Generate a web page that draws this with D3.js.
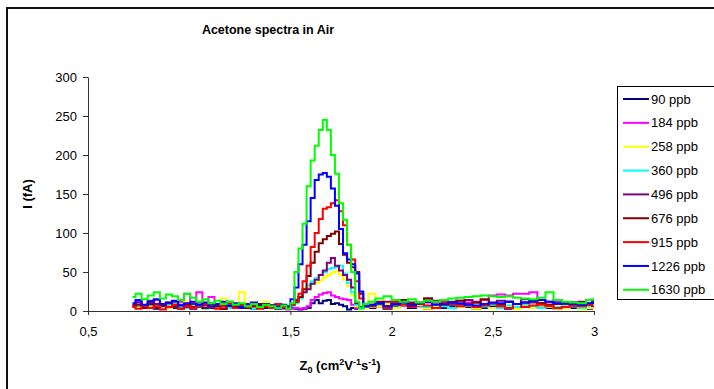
<!DOCTYPE html>
<html lang="en">
    <head>
        <meta charset="utf-8">
        <title>Acetone spectra in Air</title>
        <script type="text/javascript" src="https://cdn.jsdelivr.net/npm/d3@7"></script>
        <style type="text/css">
            body { margin: 0; background: #fff; }
            svg { display: block; font-family: Arial, "Liberation Sans", sans-serif; }
        </style>
    </head>
    <body>
        <div class="chart"></div>
        <script type="text/javascript">
            // mobility axis (Z0), shared by all series
            var zValues = [
                0.72, 0.75, 0.78, 0.81, 0.84, 0.87, 0.90, 0.93, 0.96, 0.99, 1.02, 1.05, 1.08,
                1.11, 1.14, 1.17, 1.20, 1.23, 1.26, 1.29, 1.32, 1.35, 1.38, 1.41, 1.44, 1.47,
                1.49, 1.51, 1.53, 1.55, 1.57, 1.59, 1.61, 1.63, 1.65, 1.67,
                1.69, 1.71, 1.73, 1.75, 1.77, 1.79, 1.81, 1.83, 1.85, 1.87,
                1.90, 1.94, 1.98, 2.02, 2.06, 2.10, 2.14, 2.18, 2.22, 2.26, 2.30, 2.34, 2.38,
                2.42, 2.46, 2.50, 2.54, 2.58, 2.62, 2.66, 2.70, 2.74, 2.78, 2.82, 2.86, 2.90,
                2.94, 2.98, 3.00
            ];
            var seriesNames = ["90 ppb", "184 ppb", "258 ppb", "360 ppb", "496 ppb",
                               "676 ppb", "915 ppb", "1226 ppb", "1630 ppb"];
            var seriesColors = ["#000080", "#ff00ff", "#ffff00", "#00ffff", "#800080",
                                "#800000", "#ff0000", "#0000ff", "#00ff00"];
            // current I (fA) for each concentration
            var i90 = [
                5, 7, 4, 6, 3, 8, 5, 4, 7, 6, 3, 5, 8, 4, 6, 3, 5, 7, 4, 6, 3, 5, 4, 6, 3, 5,
                3, 4, 3, 2, 3, 4, 10, 14, 10, 13, 14, 9, 10, 8, 6, 2, 4, 3, 5, 4,
                4, 6, 3, 5, 7, 4, 6, 3, 5, 4, 6, 8, 5, 3, 4, 6, 5, 3, 4, 6, 5, 7, 4, 3, 5, 4, 6, 3, 5
            ];
            var i184 = [
                8, 12, 6, 10, 14, 9, 11, 7, 12, 22, 10, 24, 8, 18, 9, 6, 10, 5, 8, 6, 9, 5, 7, 4, 6, 3,
                2, 3, 4, 3, 4, 6, 14, 18, 21, 23, 24, 20, 18, 16, 15, 14, 8, 4, 3, 5,
                6, 8, 5, 9, 7, 10, 8, 11, 9, 12, 10, 13, 11, 12, 14, 20, 21, 20, 22, 22, 24, 10, 8, 12, 9, 11, 10, 14, 12
            ];
            var i258 = [
                6, 4, 8, 5, 7, 9, 4, 6, 8, 12, 5, 7, 4, 9, 6, 16, 8, 5, 24, 7, 4, 6, 12, 5, 4, 6,
                4, 7, 12, 18, 24, 30, 34, 36, 39, 43, 46, 49, 51, 46, 40, 32, 20, 6, 2, 4,
                22, 6, 9, 4, 8, 5, 7, 3, 6, 9, 4, 5, 7, 3, 6, 4, 8, 5, 3, 6, 4, 7, 5, 3, 4, 6, 2, 4, 5
            ];
            var i360 = [
                5, 7, 4, 8, 6, 3, 7, 9, 5, 4, 8, 6, 3, 7, 5, 9, 4, 6, 8, 5, 3, 7, 5, 4, 6, 5,
                4, 6, 10, 16, 24, 33, 38, 42, 46, 50, 54, 55, 56, 58, 48, 36, 24, 8, 3, 5,
                5, 8, 4, 7, 10, 6, 9, 5, 8, 6, 4, 7, 9, 5, 6, 8, 4, 7, 5, 9, 6, 4, 7, 5, 8, 6, 4, 6, 7
            ];
            var i496 = [
                8, 11, 7, 13, 9, 6, 10, 12, 8, 5, 9, 11, 7, 10, 6, 8, 12, 7, 5, 9, 6, 8, 5, 7, 6, 4,
                5, 9, 14, 18, 24, 28, 35, 40, 46, 52, 62, 68, 58, 52, 46, 40, 30, 10, 4, 6,
                7, 10, 12, 8, 14, 11, 9, 16, 13, 10, 12, 9, 14, 11, 8, 10, 13, 12, 9, 15, 11, 10, 12, 14, 9, 11, 12, 10, 13
            ];
            var i676 = [
                6, 8, 4, 9, 5, 7, 10, 6, 3, 8, 5, 7, 4, 9, 6, 3, 7, 5, 8, 4, 6, 9, 5, 7, 4, 6,
                5, 8, 12, 18, 28, 45, 62, 76, 87, 92, 96, 99, 102, 86, 72, 62, 56, 50, 22, 7,
                8, 12, 6, 10, 14, 9, 11, 16, 12, 8, 10, 13, 9, 11, 15, 10, 8, 12, 9, 11, 13, 10, 8, 9, 11, 7, 9, 8, 10
            ];
            var i915 = [
                5, 3, 7, 4, 6, 2, 5, 8, 3, 6, 4, 7, 9, 5, 3, 6, 10, 4, 7, 5, 8, 3, 6, 4, 9, 5,
                4, 8, 12, 22, 38, 58, 82, 100, 118, 131, 133, 138, 142, 128, 110, 85, 66, 38, 16, 8,
                6, 9, 4, 12, 8, 5, 10, 7, 4, 11, 9, 6, 8, 5, 7, 10, 6, 4, 9, 5, 7, 8, 6, 4, 5, 7, 6, 8, 6
            ];
            var i1226 = [
                10, 14, 8, 12, 15, 9, 11, 13, 7, 10, 12, 8, 11, 6, 9, 12, 7, 10, 5, 8, 11, 6, 9, 7, 5, 8,
                6, 15, 30, 60, 85, 115, 145, 168, 175, 177, 172, 157, 135, 105, 74, 66, 60, 48, 25, 6,
                8, 10, 6, 9, 11, 7, 10, 12, 8, 9, 11, 10, 8, 7, 9, 11, 10, 12, 9, 11, 13, 14, 12, 10, 11, 9, 8, 10, 11
            ];
            var i1630 = [
                18, 22, 15, 20, 24, 16, 21, 19, 14, 22, 17, 12, 15, 10, 13, 9, 12, 8, 10, 6, 9, 5, 8, 6, 4, 7,
                3, 10, 50, 80, 112, 160, 193, 212, 232, 245, 232, 200, 176, 138, 117, 85, 50, 12, 4, 9,
                12, 16, 19, 14, 12, 15, 11, 13, 12, 14, 16, 17, 18, 19, 20, 19, 18, 19, 17, 16, 15, 17, 24, 14, 12, 11, 10, 14, 15
            ];
            var seriesValues = [i90, i184, i258, i360, i496, i676, i915, i1226, i1630];
            var xTicks = [0.5, 1, 1.5, 2, 2.5, 3];
            var yTicks = [0, 50, 100, 150, 200, 250, 300];

            var w = 714;
            var h = 389;
            var plot = {left: 88, right: 594, top: 77, bottom: 311};

            var svg = d3.select("div.chart")
                        .append("svg")
                        .attr("width", w)
                        .attr("height", h);

            // outer chart frame (runs off the right / bottom edge)
            svg.append("rect")
               .attr("x", 7)
               .attr("y", 8)
               .attr("width", 740)
               .attr("height", 420)
               .attr("fill", "#fff")
               .attr("stroke", "#111")
               .attr("stroke-width", 2);

            var xScale = d3.scaleLinear()
                           .domain([0.5, 3])
                           .range([plot.left, plot.right]);
            var yScale = d3.scaleLinear()
                           .domain([0, 300])
                           .range([plot.bottom, plot.top]);

            // axes
            var xAxis = d3.axisBottom(xScale)
                          .tickValues(xTicks)
                          .tickSizeInner(4)
                          .tickSizeOuter(0)
                          .tickPadding(12)
                          .tickFormat(function(d){ return String(d).replace(".", ","); });
            var yAxis = d3.axisLeft(yScale)
                          .tickValues(yTicks)
                          .tickSizeInner(5)
                          .tickSizeOuter(0)
                          .tickPadding(6);

            var gx = svg.append("g")
                        .attr("transform", "translate(0," + plot.bottom + ")")
                        .call(xAxis);
            var gy = svg.append("g")
                        .attr("transform", "translate(" + plot.left + ",0)")
                        .call(yAxis);
            [gx, gy].forEach(function(g){
                g.selectAll("path, line").attr("stroke", "#333");
                g.selectAll("text")
                 .attr("fill", "#000")
                 .style("font-size", "13px")
                 .style("font-family", "Arial, 'Liberation Sans', sans-serif");
            });

            // spectra as stepped traces, 1630 ppb drawn last so it is on top
            var line = d3.line()
                         .curve(d3.curveStep)
                         .x(function(d, i){ return xScale(zValues[i]); })
                         .y(function(d){ return yScale(d); });
            svg.append("g")
               .selectAll("path")
               .data(seriesValues)
               .enter()
               .append("path")
               .attr("d", line)
               .attr("fill", "none")
               .attr("stroke", function(d, i){ return seriesColors[i]; })
               .attr("stroke-width", 2);

            // title
            svg.append("text")
               .attr("x", 268)
               .attr("y", 34)
               .attr("text-anchor", "middle")
               .style("font-size", "12.5px")
               .style("font-weight", "bold")
               .text("Acetone spectra in Air");

            // y axis title
            svg.append("text")
               .attr("transform", "translate(32," + ((plot.top + plot.bottom) / 2) + ") rotate(-90)")
               .attr("text-anchor", "middle")
               .style("font-size", "13px")
               .style("font-weight", "bold")
               .text("I (fA)");

            // x axis title with sub/superscripts
            var xt = svg.append("text")
                        .attr("x", 340)
                        .attr("y", 370)
                        .attr("text-anchor", "middle")
                        .style("font-size", "13px")
                        .style("font-weight", "bold");
            xt.append("tspan").text("Z");
            xt.append("tspan").attr("dy", 3).style("font-size", "9px").text("0");
            xt.append("tspan").attr("dy", -3).text(" (cm");
            xt.append("tspan").attr("dy", -5).style("font-size", "9px").text("2");
            xt.append("tspan").attr("dy", 5).text("V");
            xt.append("tspan").attr("dy", -5).style("font-size", "9px").text("-1");
            xt.append("tspan").attr("dy", 5).text("s");
            xt.append("tspan").attr("dy", -5).style("font-size", "9px").text("-1");
            xt.append("tspan").attr("dy", 5).text(")");

            // legend
            var legend = svg.append("g")
                            .attr("transform", "translate(617,86)");
            legend.append("rect")
                  .attr("x", 0.5)
                  .attr("y", 0.5)
                  .attr("width", 120)
                  .attr("height", 213)
                  .attr("fill", "#fff")
                  .attr("stroke", "#000");
            var item = legend.selectAll("g.item")
                             .data(seriesNames)
                             .enter()
                             .append("g")
                             .attr("class", "item")
                             .attr("transform", function(d, i){ return "translate(0," + (13 + i * 23.85) + ")"; });
            item.append("line")
                .attr("x1", 6)
                .attr("x2", 32)
                .attr("stroke", function(d, i){ return seriesColors[i]; })
                .attr("stroke-width", 2);
            item.append("text")
                .attr("x", 34)
                .attr("dy", "0.35em")
                .style("font-size", "13px")
                .text(function(d){ return d; });
        </script>
    </body>
</html>
